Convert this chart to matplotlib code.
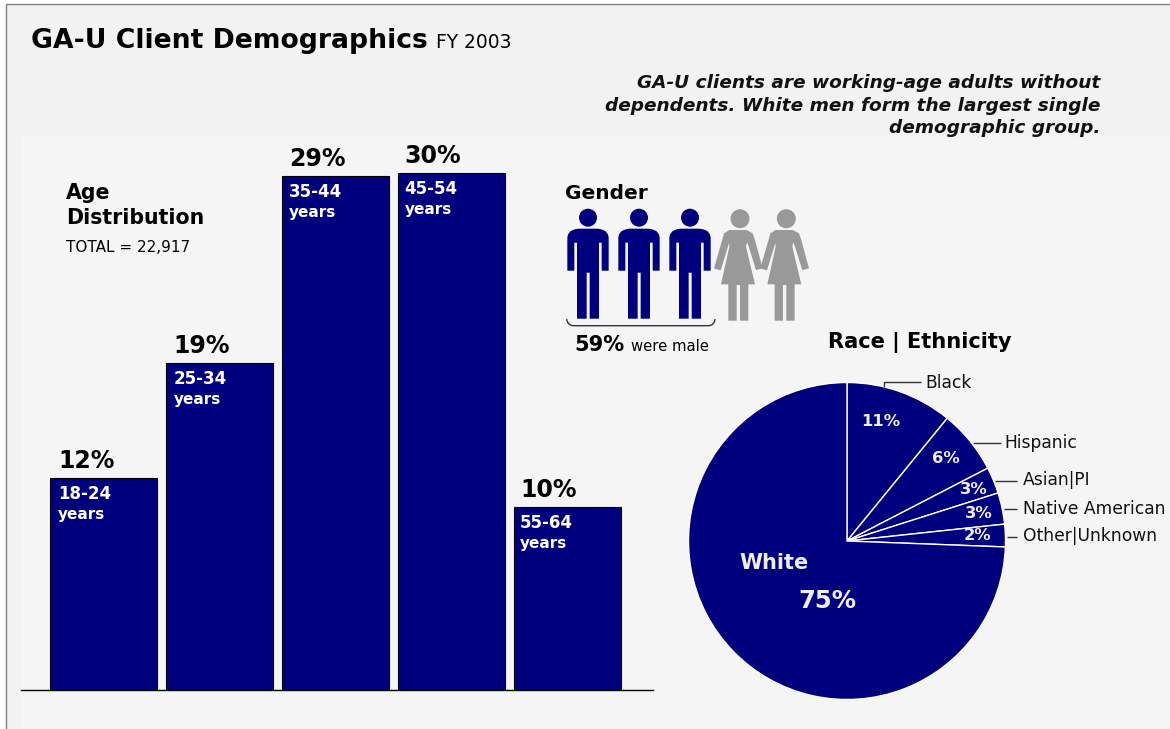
import matplotlib
matplotlib.use("Agg")
import matplotlib.pyplot as plt
from matplotlib.patches import Rectangle, Polygon, Circle, PathPatch
from matplotlib.path import Path

# chart values
age_labels = ["18-24", "25-34", "35-44", "45-54", "55-64"]
age_heights = [12.3, 19.0, 29.8, 30.0, 10.6]
age_pct = ["12%", "19%", "29%", "30%", "10%"]

race_labels = ["Black", "Hispanic", "Asian|PI", "Native American", "Other|Unknown", "White"]
race_values = [10.9, 6.5, 2.7, 3.2, 2.3, 74.4]
race_pct = ["11%", "6%", "3%", "3%", "2%", "75%"]

men_count = 3
women_count = 2

W, H = 1170, 729
NAVY = "#00007f"
GREY = "#999999"

fig = plt.figure(figsize=(W / 100, H / 100), dpi=100, facecolor="white")

# overlay in pixel coords, y goes down
bg = fig.add_axes([0, 0, 1, 1], zorder=0)
bg.set_xlim(0, W)
bg.set_ylim(H, 0)
bg.axis("off")
bg.add_patch(Rectangle((6, 4), W, H, facecolor="#f2f2f2", edgecolor="#808080", lw=1, zorder=1))
# the lower panel sits over the note, it cuts the descenders of the last line
bg.add_patch(Rectangle((21, 137), W, 590, facecolor="#f5f5f5", edgecolor="none", zorder=3))
note = ["GA-U clients are working-age adults without",
        "dependents. White men form the largest single",
        "demographic group."]
for i, line in enumerate(note):
    bg.text(1100, 88 + 22.5 * i, line, fontsize=13.3, fontweight="bold", style="italic", ha="right",
            va="baseline", zorder=2, color="#111111")


def pixel_axes(left, top, right, bottom, z=1):
    return fig.add_axes([left / W, 1 - bottom / H, (right - left) / W, (bottom - top) / H], zorder=z)


# bars
ax = pixel_axes(21, 137, 653, 690)
ax.patch.set_alpha(0)
ax.bar(range(5), age_heights, width=107 / 116, color=NAVY, edgecolor="black", linewidth=0.8)
ax.set_xlim((21 - 103.5) / 116, (653 - 103.5) / 116)
ax.set_ylim(0, 553 / 517 * 30)
for s in ["top", "left", "right"]:
    ax.spines[s].set_visible(False)
ax.spines["bottom"].set_linewidth(1)
ax.set_xticks([])
ax.set_yticks([])
for i in range(5):
    off = -45.5 - 0.5 * i
    ax.annotate(age_pct[i], (i, age_heights[i]), xytext=(off, 5), textcoords="offset pixels",
                fontsize=17, fontweight="bold", color="black", va="bottom", ha="left")
    ax.annotate(age_labels[i], (i, age_heights[i]), xytext=(off, -21), textcoords="offset pixels",
                fontsize=12, fontweight="bold", color="white", va="baseline", ha="left")
    ax.annotate("years", (i, age_heights[i]), xytext=(off, -41), textcoords="offset pixels",
                fontsize=11, fontweight="bold", color="white", va="baseline", ha="left")

# pie
r = 158.5
pie_ax = pixel_axes(847 - r, 541 - r, 847 + r, 541 + r)
wedges, _ = pie_ax.pie(race_values, startangle=90, counterclock=False, colors=[NAVY] * 6,
                       wedgeprops=dict(edgecolor="white", linewidth=1))
pie_ax.set_xlim(-1, 1)
pie_ax.set_ylim(-1, 1)
pie_ax.patch.set_alpha(0)

# text layer on top
top = fig.add_axes([0, 0, 1, 1], zorder=5)
top.set_xlim(0, W)
top.set_ylim(H, 0)
top.axis("off")
top.patch.set_alpha(0)

top.text(31, 48, "GA-U Client Demographics", fontsize=19.2, fontweight="bold", va="baseline")
top.text(436, 48, "FY 2003", fontsize=13.4, va="baseline")

top.text(66, 199, "Age", fontsize=14.8, fontweight="bold", va="baseline")
top.text(66, 224, "Distribution", fontsize=14.8, fontweight="bold", va="baseline")
top.text(66, 252, "TOTAL = 22,917", fontsize=11, va="baseline")
top.text(565, 199, "Gender", fontsize=14.5, fontweight="bold", va="baseline")
top.text(574, 351, "59%", fontsize=15, fontweight="bold", va="baseline")
top.text(631, 351, "were male", fontsize=10.7, va="baseline")
top.text(828, 348, "Race | Ethnicity", fontsize=15.1, fontweight="bold", va="baseline")

# pie labels and leaders
label_pos = [(925, 388), (1004, 448), (1023, 485), (1023, 514), (1023, 541)]
leaders = [[(884.3, 387.3), (884.3, 381.7), (920.7, 381.7)],
           [(973.3, 443), (1000.7, 443)],
           [(995, 480.7), (1017.3, 480.7)],
           [(1004, 508.7), (1017.3, 508.7)],
           [(1006.7, 537.3), (1017.3, 537.3)]]
for i in range(5):
    top.text(label_pos[i][0], label_pos[i][1], race_labels[i], fontsize=12.3, va="baseline", color="#111111")
    top.plot(*zip(*leaders[i]), color="#333333", lw=1, solid_capstyle="butt")
pct_pos = [(881, 421), (946, 458), (974, 489), (979, 513), (978, 535)]
for i in range(5):
    top.text(pct_pos[i][0], pct_pos[i][1], race_pct[i], fontsize=11.8, fontweight="bold", color="#eeeeee",
             ha="center", va="center")
top.text(739, 569, race_labels[5], fontsize=15, fontweight="bold", color="#eeeeee", va="baseline")
top.text(798, 608, race_pct[5], fontsize=17.5, fontweight="bold", color="#eeeeee", va="baseline")


# pictograms, shapes in zoomed picture units (1/3 px) around the figure centre
def man(cx):
    head_y = 217.7
    top.add_patch(Circle((cx, head_y), 9, color=NAVY, lw=0))
    pts = [(-62, 60), (-60, 50), (-52, 40), (-40, 35), (-30, 33), (30, 33), (40, 35), (52, 40), (60, 50), (62, 60),
           (62, 159), (41, 159), (41, 75), (33, 75), (33, 303), (5, 303), (5, 165), (-4, 165), (-4, 303),
           (-33, 303), (-33, 75), (-41, 75), (-41, 159), (-62, 159)]
    top.add_patch(Polygon([(cx + x / 3, head_y + y / 3) for x, y in pts], closed=True, color=NAVY, lw=0))


def woman(cx):
    head_y = 218.7
    top.add_patch(Circle((cx + 2, head_y), 9.5, color=GREY, lw=0))
    pts = [(-26, 34), (26, 34), (44, 44), (51, 64), (74, 149), (54, 154), (30, 77), (27, 71), (24, 84), (51, 197),
           (31, 197), (31, 306), (6, 306), (6, 199), (-4, 199), (-4, 306), (-29, 306), (-29, 197), (-51, 197),
           (-26, 84), (-27, 71), (-28, 77), (-52, 155), (-72, 149), (-46, 59), (-42, 44)]
    top.add_patch(Polygon([(cx + x / 3, head_y + y / 3) for x, y in pts], closed=True, color=GREY, lw=0))


for k in range(men_count):
    man(588 + 51 * k)
for k in range(women_count):
    woman(738 + 46.3 * k)

brace = Path([(566.7, 319), (567.5, 325.7), (574, 325.7), (708, 325.7), (714.5, 325.7), (715, 319)],
             [Path.MOVETO, Path.CURVE3, Path.CURVE3, Path.LINETO, Path.CURVE3, Path.CURVE3])
top.add_patch(PathPatch(brace, facecolor="none", edgecolor="#333333", lw=1))

fig.savefig("out.png", dpi=100, facecolor="white")
